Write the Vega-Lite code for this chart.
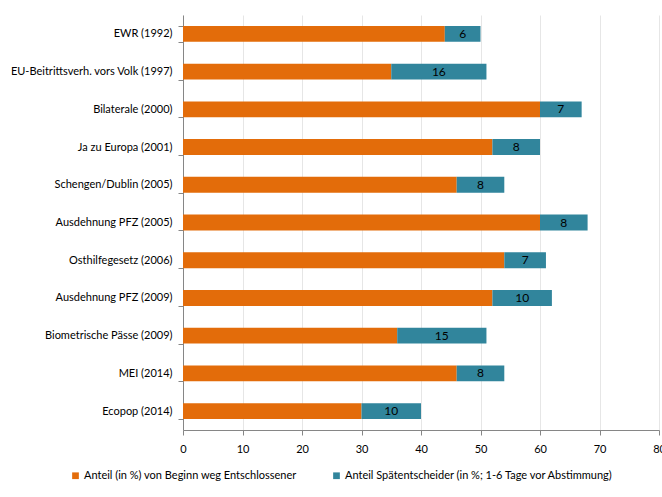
{
  "$schema": "https://vega.github.io/schema/vega-lite/v6.json",
  "width": 476,
  "height": 415,
  "padding": {"left": 183, "top": 15, "right": 3, "bottom": 67},
  "autosize": {"type": "none"},
  "background": "white",
  "config": {
    "font": "Lato",
    "view": {"stroke": null}
  },
  "data": {
    "values": [
      {"Abstimmung": "EWR (1992)", "Typ": "Anteil (in %) von Beginn weg Entschlossener", "Wert": 44},
      {"Abstimmung": "EWR (1992)", "Typ": "Anteil Spätentscheider (in %; 1-6 Tage vor Abstimmung)", "Wert": 6},
      {"Abstimmung": "EU-Beitrittsverh. vors Volk (1997)", "Typ": "Anteil (in %) von Beginn weg Entschlossener", "Wert": 35},
      {"Abstimmung": "EU-Beitrittsverh. vors Volk (1997)", "Typ": "Anteil Spätentscheider (in %; 1-6 Tage vor Abstimmung)", "Wert": 16},
      {"Abstimmung": "Bilaterale (2000)", "Typ": "Anteil (in %) von Beginn weg Entschlossener", "Wert": 60},
      {"Abstimmung": "Bilaterale (2000)", "Typ": "Anteil Spätentscheider (in %; 1-6 Tage vor Abstimmung)", "Wert": 7},
      {"Abstimmung": "Ja zu Europa (2001)", "Typ": "Anteil (in %) von Beginn weg Entschlossener", "Wert": 52},
      {"Abstimmung": "Ja zu Europa (2001)", "Typ": "Anteil Spätentscheider (in %; 1-6 Tage vor Abstimmung)", "Wert": 8},
      {"Abstimmung": "Schengen/Dublin (2005)", "Typ": "Anteil (in %) von Beginn weg Entschlossener", "Wert": 46},
      {"Abstimmung": "Schengen/Dublin (2005)", "Typ": "Anteil Spätentscheider (in %; 1-6 Tage vor Abstimmung)", "Wert": 8},
      {"Abstimmung": "Ausdehnung PFZ (2005)", "Typ": "Anteil (in %) von Beginn weg Entschlossener", "Wert": 60},
      {"Abstimmung": "Ausdehnung PFZ (2005)", "Typ": "Anteil Spätentscheider (in %; 1-6 Tage vor Abstimmung)", "Wert": 8},
      {"Abstimmung": "Osthilfegesetz (2006)", "Typ": "Anteil (in %) von Beginn weg Entschlossener", "Wert": 54},
      {"Abstimmung": "Osthilfegesetz (2006)", "Typ": "Anteil Spätentscheider (in %; 1-6 Tage vor Abstimmung)", "Wert": 7},
      {"Abstimmung": "Ausdehnung PFZ (2009)", "Typ": "Anteil (in %) von Beginn weg Entschlossener", "Wert": 52},
      {"Abstimmung": "Ausdehnung PFZ (2009)", "Typ": "Anteil Spätentscheider (in %; 1-6 Tage vor Abstimmung)", "Wert": 10},
      {"Abstimmung": "Biometrische Pässe (2009)", "Typ": "Anteil (in %) von Beginn weg Entschlossener", "Wert": 36},
      {"Abstimmung": "Biometrische Pässe (2009)", "Typ": "Anteil Spätentscheider (in %; 1-6 Tage vor Abstimmung)", "Wert": 15},
      {"Abstimmung": "MEI (2014)", "Typ": "Anteil (in %) von Beginn weg Entschlossener", "Wert": 46},
      {"Abstimmung": "MEI (2014)", "Typ": "Anteil Spätentscheider (in %; 1-6 Tage vor Abstimmung)", "Wert": 8},
      {"Abstimmung": "Ecopop (2014)", "Typ": "Anteil (in %) von Beginn weg Entschlossener", "Wert": 30},
      {"Abstimmung": "Ecopop (2014)", "Typ": "Anteil Spätentscheider (in %; 1-6 Tage vor Abstimmung)", "Wert": 10}
    ]
  },
  "transform": [
    {
      "stack": "Wert",
      "groupby": ["Abstimmung"],
      "sort": [{"field": "Typ", "order": "ascending"}],
      "as": ["x0", "x1"]
    }
  ],
  "encoding": {
    "y": {
      "field": "Abstimmung",
      "type": "nominal",
      "sort": null,
      "title": null,
      "scale": {"paddingInner": 0.58, "paddingOuter": 0.29},
      "axis": {
        "tickBand": "extent",
        "tickSize": 5,
        "tickColor": "#868686",
        "domainColor": "#868686",
        "labelFontSize": 11,
        "labelColor": "#000000",
        "labelPadding": 6,
        "labelLimit": 200,
        "grid": false
      }
    }
  },
  "layer": [
    {
      "mark": {"type": "bar"},
      "encoding": {
        "x": {
          "field": "x0",
          "type": "quantitative",
          "title": null,
          "scale": {"domain": [0, 80], "nice": false},
          "axis": {
            "values": [0, 10, 20, 30, 40, 50, 60, 70, 80],
            "tickSize": 5,
            "tickColor": "#868686",
            "domainColor": "#868686",
            "gridColor": "#e6e6e6",
            "labelFontSize": 11,
            "labelColor": "#000000",
            "labelPadding": 8,
            "labelFlush": false
          }
        },
        "x2": {"field": "x1"},
        "color": {
          "field": "Typ",
          "type": "nominal",
          "title": null,
          "scale": {
            "domain": ["Anteil (in %) von Beginn weg Entschlossener", "Anteil Spätentscheider (in %; 1-6 Tage vor Abstimmung)"],
            "range": ["#e36c0a", "#31859c"]
          },
          "legend": {
            "orient": "none",
            "direction": "horizontal",
            "legendX": -113,
            "legendY": 455,
            "symbolType": "square",
            "symbolSize": 45,
            "symbolStrokeWidth": 0,
            "labelFontSize": 11,
            "labelColor": "#000000",
            "labelLimit": 400,
            "labelOffset": 3,
            "columnPadding": 34
          }
        }
      }
    },
    {
      "transform": [
        {"filter": "datum.Typ == 'Anteil Spätentscheider (in %; 1-6 Tage vor Abstimmung)'"},
        {"calculate": "(datum.x0 + datum.x1) / 2", "as": "xm"}
      ],
      "mark": {"type": "text", "fontSize": 12, "color": "#000000"},
      "encoding": {
        "x": {"field": "xm", "type": "quantitative"},
        "text": {"field": "Wert", "type": "quantitative"}
      }
    }
  ]
}
